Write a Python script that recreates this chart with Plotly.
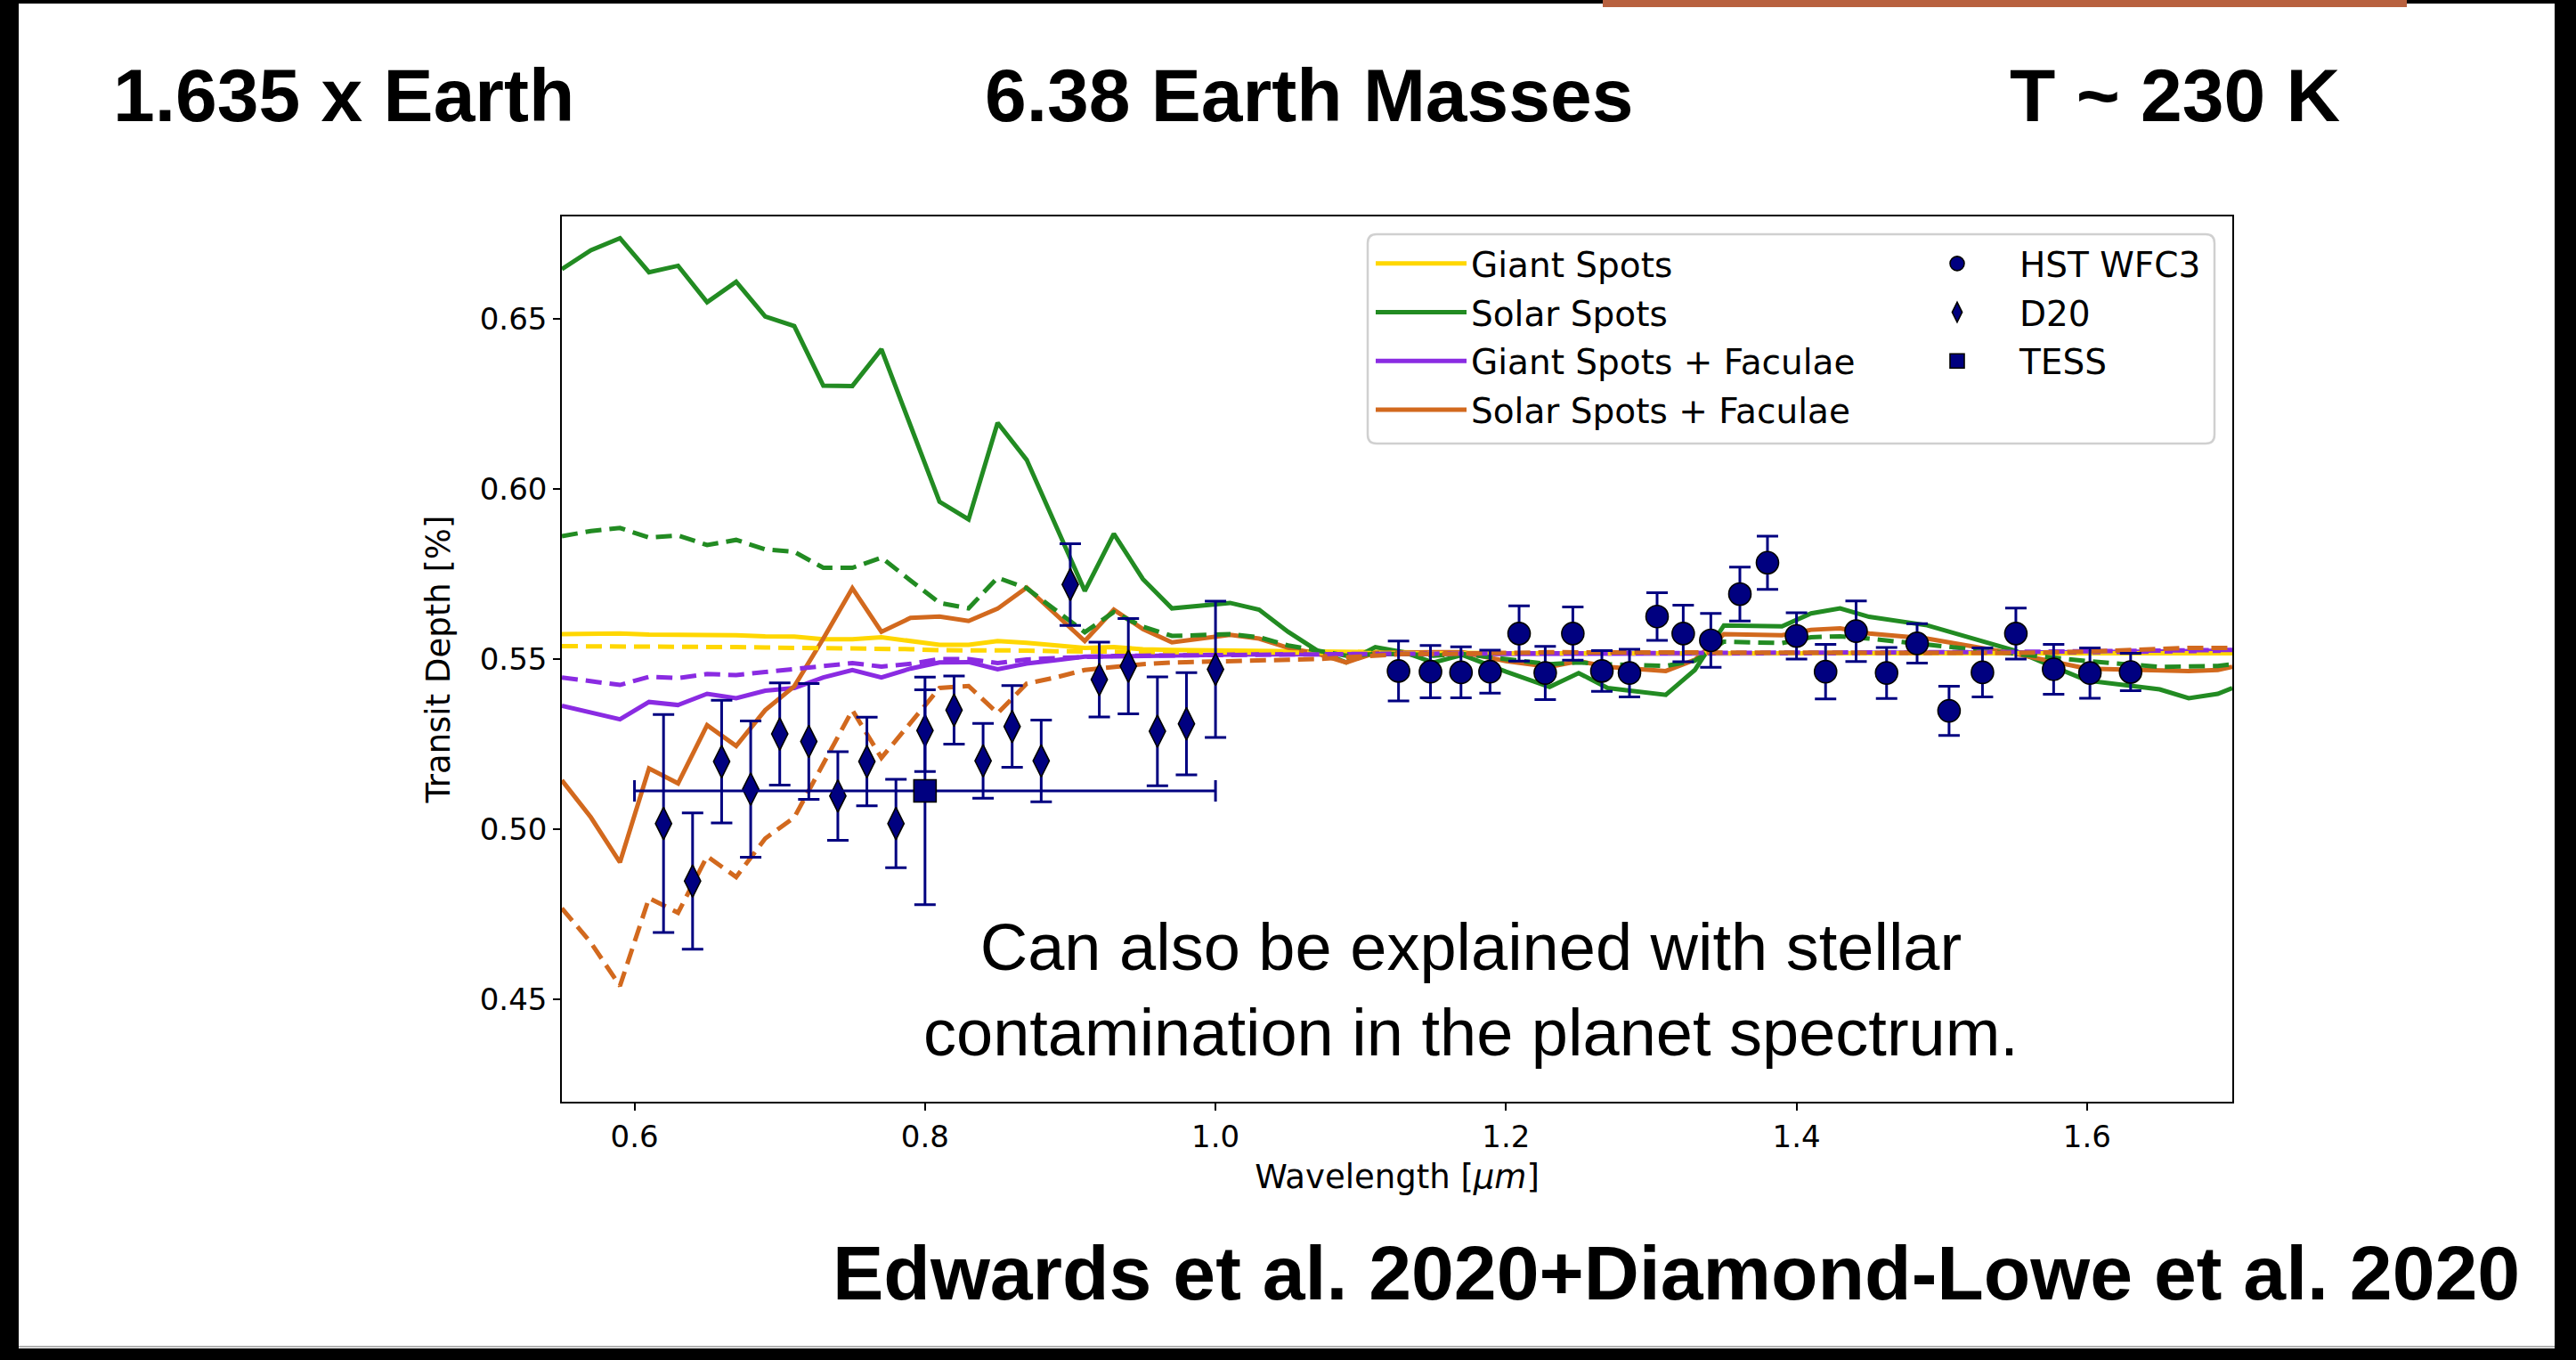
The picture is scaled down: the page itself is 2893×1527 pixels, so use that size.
import plotly.graph_objects as go

# ---------------- data ----------------
wl_model = [0.55, 0.57, 0.59, 0.61, 0.63, 0.65, 0.67, 0.69, 0.71, 0.73,
            0.75, 0.77, 0.79, 0.81, 0.83, 0.85, 0.87, 0.89, 0.91, 0.93,
            0.95, 0.97, 0.99, 1.01, 1.03, 1.05, 1.07, 1.09,
            1.11, 1.13, 1.15, 1.17, 1.20, 1.23, 1.25, 1.27, 1.31, 1.33,
            1.35, 1.39, 1.41, 1.43, 1.45, 1.49, 1.55, 1.60, 1.65, 1.67, 1.69, 1.70]

giant_spots = [0.5573, 0.5574, 0.5575, 0.5572, 0.5572, 0.5570, 0.5570, 0.5567, 0.5566, 0.5558,
               0.5558, 0.5564, 0.5553, 0.5542, 0.5542, 0.5553, 0.5548, 0.5540, 0.5533, 0.5535,
               0.5529, 0.5527, 0.5526, 0.5525, 0.5524, 0.5522, 0.5520, 0.5520,
               0.5519, 0.5518, 0.5518, 0.5518, 0.5517, 0.5517, 0.5517, 0.5517, 0.5517, 0.5517,
               0.5517, 0.5517, 0.5517, 0.5517, 0.5517, 0.5517, 0.5517, 0.5517, 0.5517, 0.5517, 0.5517, 0.5517]
giant_spots_alt = [0.5538, 0.5538, 0.5538, 0.5537, 0.5536, 0.5535, 0.5535, 0.5534, 0.5533, 0.5532,
                   0.5532, 0.5532, 0.5529, 0.5526, 0.5526, 0.5527, 0.5525, 0.5523, 0.5522, 0.5522,
                   0.5521, 0.5520, 0.5520, 0.5520, 0.5519, 0.5519, 0.5518, 0.5518,
                   0.5517, 0.5517, 0.5517, 0.5517, 0.5517, 0.5517, 0.5517, 0.5517, 0.5517, 0.5517,
                   0.5517, 0.5517, 0.5517, 0.5517, 0.5517, 0.5517, 0.5517, 0.5517, 0.5517, 0.5517, 0.5517, 0.5517]
solar_spots = [0.6645, 0.6701, 0.6736, 0.6636, 0.6655, 0.6548, 0.6608, 0.6506, 0.6478, 0.6303,
               0.6302, 0.6410, 0.6186, 0.5962, 0.5910, 0.6194, 0.6085, 0.5890, 0.5700, 0.5868,
               0.5735, 0.5649, 0.5657, 0.5665, 0.5645, 0.5580, 0.5525, 0.5490,
               0.5535, 0.5520, 0.5490, 0.5512, 0.5463, 0.5418, 0.5459, 0.5415, 0.5395, 0.5468,
               0.5599, 0.5596, 0.5634, 0.5649, 0.5624, 0.5599, 0.5525, 0.5437, 0.5411, 0.5385, 0.5398, 0.5415]
solar_spots_alt = [0.5861, 0.5876, 0.5885, 0.5857, 0.5863, 0.5835, 0.5850, 0.5822, 0.5815, 0.5768,
                   0.5768, 0.5798, 0.5731, 0.5665, 0.5649, 0.5739, 0.5708, 0.5643, 0.5579, 0.5638,
                   0.5595, 0.5568, 0.5570, 0.5573, 0.5564, 0.5540, 0.5525, 0.5510,
                   0.5515, 0.5515, 0.5510, 0.5515, 0.5500, 0.5485, 0.5490, 0.5485, 0.5480, 0.5495,
                   0.5551, 0.5547, 0.5564, 0.5567, 0.5560, 0.5542, 0.5516, 0.5494, 0.5477, 0.5477, 0.5480, 0.5485]
giant_faculae = [0.5363, 0.5343, 0.5323, 0.5374, 0.5365, 0.5398, 0.5385, 0.5407, 0.5415, 0.5446,
                 0.5468, 0.5446, 0.5472, 0.5490, 0.5491, 0.5470, 0.5487, 0.5497, 0.5507, 0.5508,
                 0.5510, 0.5512, 0.5512, 0.5513, 0.5514, 0.5514, 0.5515, 0.5515,
                 0.5515, 0.5515, 0.5515, 0.5516, 0.5516, 0.5516, 0.5516, 0.5516, 0.5516, 0.5516,
                 0.5517, 0.5517, 0.5517, 0.5517, 0.5518, 0.5518, 0.5519, 0.5520, 0.5522, 0.5523, 0.5524, 0.5525]
giant_faculae_alt = [0.5446, 0.5435, 0.5424, 0.5448, 0.5444, 0.5456, 0.5453, 0.5462, 0.5470, 0.5481,
                     0.5488, 0.5478, 0.5486, 0.5500, 0.5500, 0.5488, 0.5499, 0.5503, 0.5507, 0.5509,
                     0.5510, 0.5511, 0.5512, 0.5512, 0.5513, 0.5514, 0.5515, 0.5515,
                     0.5516, 0.5516, 0.5516, 0.5517, 0.5517, 0.5517, 0.5517, 0.5517, 0.5517, 0.5518,
                     0.5518, 0.5518, 0.5518, 0.5519, 0.5519, 0.5520, 0.5521, 0.5522, 0.5524, 0.5525, 0.5526, 0.5527]
solar_faculae = [0.5144, 0.5035, 0.4903, 0.5179, 0.5135, 0.5306, 0.5245, 0.5350, 0.5420, 0.5560,
                 0.5708, 0.5580, 0.5621, 0.5625, 0.5612, 0.5648, 0.5710, 0.5631, 0.5553, 0.5645,
                 0.5588, 0.5549, 0.5560, 0.5571, 0.5560, 0.5533, 0.5516, 0.5490,
                 0.5518, 0.5520, 0.5520, 0.5520, 0.5494, 0.5477, 0.5494, 0.5477, 0.5465, 0.5498,
                 0.5573, 0.5570, 0.5586, 0.5590, 0.5575, 0.5560, 0.5516, 0.5472, 0.5465, 0.5465, 0.5468, 0.5477]
solar_faculae_alt = [0.4768, 0.4667, 0.4540, 0.4798, 0.4755, 0.4921, 0.4860, 0.4973, 0.5035, 0.5190,
                     0.5350, 0.5210, 0.5310, 0.5415, 0.5421, 0.5341, 0.5428, 0.5446, 0.5468, 0.5477,
                     0.5485, 0.5490, 0.5492, 0.5494, 0.5494, 0.5498, 0.5500, 0.5505,
                     0.5510, 0.5515, 0.5515, 0.5515, 0.5518, 0.5520, 0.5520, 0.5520, 0.5520, 0.5520,
                     0.5518, 0.5518, 0.5518, 0.5518, 0.5518, 0.5518, 0.5518, 0.5522, 0.5530, 0.5533, 0.5533, 0.5533]

hst_wl = [1.126, 1.148, 1.169, 1.189, 1.209, 1.227, 1.246, 1.266, 1.285, 1.304, 1.322, 1.341, 1.361,
          1.380, 1.400, 1.420, 1.441, 1.462, 1.483, 1.505, 1.528, 1.551, 1.577, 1.602, 1.630]
hst_depth = [0.5465, 0.5463, 0.5461, 0.5463, 0.5575, 0.5459, 0.5575, 0.5465, 0.5459, 0.5625, 0.5575, 0.5555, 0.5691,
             0.5783, 0.5568, 0.5463, 0.5582, 0.5459, 0.5546, 0.5348, 0.5461, 0.5575, 0.5470, 0.5459, 0.5462]
hst_err = [0.0088, 0.0077, 0.0075, 0.0063, 0.0081, 0.0078, 0.0078, 0.0060, 0.0070, 0.0070, 0.0083, 0.0079, 0.0079,
           0.0078, 0.0068, 0.0080, 0.0089, 0.0075, 0.0058, 0.0072, 0.0072, 0.0075, 0.0073, 0.0074, 0.0055]

d20_wl = [0.62, 0.64, 0.66, 0.68, 0.70, 0.72, 0.74, 0.76, 0.78, 0.80,
          0.82, 0.84, 0.86, 0.88, 0.90, 0.92, 0.94, 0.96, 0.98, 1.00]
d20_depth = [0.5017, 0.4848, 0.5199, 0.5118, 0.5280, 0.5258, 0.5098, 0.5199, 0.5017, 0.5290,
             0.5350, 0.5201, 0.5302, 0.5201, 0.5719, 0.5440, 0.5479, 0.5288, 0.5310, 0.5470]
d20_err = [0.032, 0.020, 0.018, 0.020, 0.015, 0.017, 0.013, 0.013, 0.013, 0.012,
           0.010, 0.011, 0.012, 0.012, 0.012, 0.011, 0.014, 0.016, 0.015, 0.020]

tess_wl = [0.80]
tess_depth = [0.5113]
tess_err = [0.0334]
tess_halfwidth = [0.20]

x_ticks = [0.6, 0.8, 1.0, 1.2, 1.4, 1.6]
y_ticks = [0.45, 0.50, 0.55, 0.60, 0.65]

# ---------------- layout helpers ----------------
W, H = 2893, 1527
ML, MR, MT, MB = 631, 386, 243, 290
PW, PH = W - ML - MR, H - MT - MB


def fx(px):
    return (px - ML) / PW


def fy(py):
    return (H - MB - py) / PH


NAVY = "#000080"
TICKFONT = "DejaVu Sans"
SLIDEFONT = "Liberation Sans"

fig = go.Figure()

models = [
    ("Giant Spots", giant_spots, giant_spots_alt, "#FFD700"),
    ("Solar Spots", solar_spots, solar_spots_alt, "#228B22"),
    ("Giant Spots + Faculae", giant_faculae, giant_faculae_alt, "#8A2BE2"),
    ("Solar Spots + Faculae", solar_faculae, solar_faculae_alt, "#D2691E"),
]
for name, ys, _, col in models:
    fig.add_trace(go.Scatter(x=wl_model, y=ys, mode="lines", name=name,
                             legend="legend", legendgroup=name,
                             line=dict(color=col, width=5)))
for name, _, ys, col in models:
    fig.add_trace(go.Scatter(x=wl_model, y=ys, mode="lines", name=name + " (alt)",
                             showlegend=False,
                             line=dict(color=col, width=5, dash="18px,9px")))

err_style = dict(type="data", color=NAVY, thickness=3, width=12, visible=True)

fig.add_trace(go.Scatter(x=hst_wl, y=hst_depth, mode="markers", name="HST WFC3",
                         legend="legend2", legendgroup="HST WFC3",
                         error_y=dict(array=hst_err, **err_style),
                         marker=dict(symbol="circle", size=25, color=NAVY,
                                     line=dict(color="black", width=1.6))))
fig.add_trace(go.Scatter(x=d20_wl, y=d20_depth, mode="markers", name="D20",
                         legend="legend2", legendgroup="D20",
                         error_y=dict(array=d20_err, **err_style),
                         marker=dict(symbol="diamond-tall", size=26, color=NAVY,
                                     line=dict(color="black", width=1.6))))
fig.add_trace(go.Scatter(x=tess_wl, y=tess_depth, mode="markers", name="TESS",
                         legend="legend2", legendgroup="TESS",
                         error_y=dict(array=tess_err, **err_style),
                         error_x=dict(array=tess_halfwidth, **err_style),
                         marker=dict(symbol="square", size=25, color=NAVY,
                                     line=dict(color="black", width=1.6))))

axis_common = dict(showline=True, linecolor="black", linewidth=1.5, mirror=True,
                   ticks="outside", ticklen=8, tickwidth=1.5, tickcolor="black",
                   showgrid=False, zeroline=False,
                   tickfont=dict(family=TICKFONT, size=34, color="black"))

fig.update_xaxes(range=[0.55, 1.70], tickvals=x_ticks, tickformat=".1f",
                 title=dict(text="Wavelength [<i>μm</i>]", standoff=14,
                            font=dict(family=TICKFONT, size=37, color="black")),
                 **axis_common)
fig.update_yaxes(range=[0.42, 0.68], tickvals=y_ticks, tickformat=".2f",
                 title=dict(text="Transit Depth [%]", standoff=22,
                            font=dict(family=TICKFONT, size=37, color="black")),
                 **axis_common)

annotations = [
    dict(text="<b>1.635 x Earth</b>", x=fx(125), y=fy(107), xanchor="left", yanchor="middle",
         font=dict(family=SLIDEFONT, size=84, color="black")),
    dict(text="<b>6.38 Earth Masses</b>", x=fx(1470), y=fy(107), xanchor="center", yanchor="middle",
         font=dict(family=SLIDEFONT, size=84, color="black")),
    dict(text="<b>T ~ 230 K</b>", x=fx(2442), y=fy(107), xanchor="center", yanchor="middle",
         font=dict(family=SLIDEFONT, size=84, color="black")),
    dict(text="<b>Edwards et al. 2020+Diamond-Lowe et al. 2020</b>", x=fx(2832), y=fy(1429),
         xanchor="right", yanchor="middle",
         font=dict(family=SLIDEFONT, size=86, color="black")),
    dict(text="Can also be explained with stellar<br>contamination in the planet spectrum.",
         x=fx(1652), y=fy(1111), xanchor="center", yanchor="middle", align="center",
         font=dict(family=SLIDEFONT, size=74, color="black")),
]
for a in annotations:
    a.update(xref="paper", yref="paper", showarrow=False)

# rounded legend frame (matplotlib-style fancybox)
bx0, bx1, by0, by1, rad = 1536, 2487, 263, 498, 10
legend_box_path = (
    f"M {fx(bx0 + rad)} {fy(by0)} L {fx(bx1 - rad)} {fy(by0)} "
    f"Q {fx(bx1)} {fy(by0)} {fx(bx1)} {fy(by0 + rad)} "
    f"L {fx(bx1)} {fy(by1 - rad)} Q {fx(bx1)} {fy(by1)} {fx(bx1 - rad)} {fy(by1)} "
    f"L {fx(bx0 + rad)} {fy(by1)} Q {fx(bx0)} {fy(by1)} {fx(bx0)} {fy(by1 - rad)} "
    f"L {fx(bx0)} {fy(by0 + rad)} Q {fx(bx0)} {fy(by0)} {fx(bx0 + rad)} {fy(by0)} Z"
)

shapes = [
    dict(type="path", path=legend_box_path, fillcolor="rgba(255,255,255,0.85)",
         line=dict(color="#d0d0d0", width=2.5)),
    # slide frame
    dict(type="rect", x0=fx(0), x1=fx(21), y0=fy(H), y1=fy(0), fillcolor="black", line_width=0),
    dict(type="rect", x0=fx(2869), x1=fx(W), y0=fy(H), y1=fy(0), fillcolor="black", line_width=0),
    dict(type="rect", x0=fx(0), x1=fx(W), y0=fy(H), y1=fy(1514), fillcolor="black", line_width=0),
    dict(type="rect", x0=fx(0), x1=fx(W), y0=fy(4), y1=fy(0), fillcolor="black", line_width=0),
    dict(type="rect", x0=fx(1800), x1=fx(2703), y0=fy(8), y1=fy(0), fillcolor="#b8613f", line_width=0),
    dict(type="line", x0=fx(21), x1=fx(2869), y0=fy(1512), y1=fy(1512),
         line=dict(color="#999999", width=1.5)),
]
for s in shapes:
    s.update(xref="paper", yref="paper", layer="above")

legend_common = dict(orientation="v", yanchor="top", xanchor="left",
                     font=dict(family=TICKFONT, size=39, color="black"),
                     bgcolor="rgba(0,0,0,0)", borderwidth=0,
                     tracegroupgap=1, traceorder="grouped")

fig.update_layout(
    width=W, height=H,
    margin=dict(l=ML, r=MR, t=MT, b=MB, autoexpand=False),
    paper_bgcolor="white", plot_bgcolor="white",
    showlegend=True,
    legend=dict(x=fx(1540), y=fy(264), itemwidth=102, **legend_common),
    legend2=dict(x=fx(2128), y=fy(264), itemwidth=130, **legend_common),
    annotations=annotations,
    shapes=shapes,
)

fig.write_html("out.html",
               config={"displayModeBar": False},
               post_script="document.body.style.margin='0px';document.body.style.overflow='hidden';")
